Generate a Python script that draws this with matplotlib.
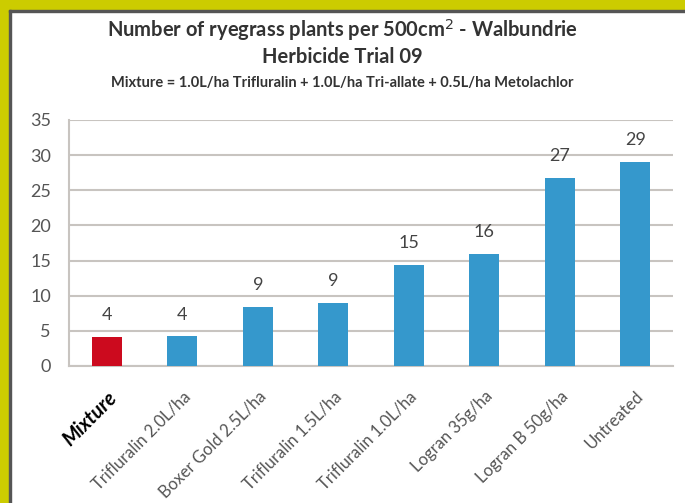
import matplotlib.pyplot as plt
from matplotlib.patches import Rectangle
import numpy as np

plt.rcParams['font.family'] = ['Lato', 'DejaVu Sans']

# data
categories = ['Mixture', 'Trifluralin 2.0L/ha', 'Boxer Gold 2.5L/ha', 'Trifluralin 1.5L/ha',
              'Trifluralin 1.0L/ha', 'Logran 35g/ha', 'Logran B 50g/ha', 'Untreated']
plants = [4.1, 4.2, 8.4, 9.0, 14.4, 15.9, 26.7, 29.0]
labels = ['4', '4', '9', '9', '15', '16', '27', '29']
bar_colors = ['#cc0a1e'] + ['#3598cc'] * 7

W, H = 685, 503
fig = plt.figure(figsize=(W / 100, H / 100), dpi=100)

# yellow frame on top and left
fig.patches.append(Rectangle((0, 1 - 10 / H), 1, 10 / H, transform=fig.transFigure,
                             color='#cccc00', zorder=0))
fig.patches.append(Rectangle((0, 0), 9 / W, 1, transform=fig.transFigure,
                             color='#cccc00', zorder=0))
fig.patches.append(Rectangle((9 / W, 0), 2 / W, 1 - 10 / H, transform=fig.transFigure,
                             color='#555555', zorder=1))
fig.patches.append(Rectangle((9 / W, 1 - 12 / H), 1, 2 / H, transform=fig.transFigure,
                             color='#555555', zorder=1))

ax = fig.add_axes([69 / W, 1 - 366 / H, (673 - 69) / W, (366 - 120) / H])
x = np.arange(len(categories))
bars = ax.bar(x, plants, width=0.4, color=bar_colors, zorder=3)

ax.set_xlim(-0.5, len(categories) - 0.5)
ax.set_ylim(0, 35)
ax.set_yticks(np.arange(0, 36, 5))
ax.grid(axis='y', color='#c8c4c0', linewidth=1.5, zorder=0)
for s in ['top', 'right']:
    ax.spines[s].set_visible(False)
ax.spines['left'].set_color('#c8c4c0')
ax.spines['bottom'].set_color('#c8c4c0')
ax.spines['left'].set_linewidth(1.5)
ax.spines['bottom'].set_linewidth(1.5)
ax.tick_params(axis='y', length=0, labelsize=13, labelcolor='#555555', pad=13)
ax.tick_params(axis='x', length=0, pad=16)

ax.set_xticks(x)
ax.set_xticklabels(categories, rotation=45, ha='right', rotation_mode='anchor',
                   fontsize=12, color='#555555')
tl = ax.get_xticklabels()[0]
tl.set_color('black')
tl.set_fontweight('bold')
tl.set_fontstyle('italic')
tl.set_fontsize(14.5)

for b, lab in zip(bars, labels):
    ax.annotate(lab, (b.get_x() + b.get_width() / 2, b.get_height()),
                xytext=(0, 10), textcoords='offset points', ha='center', va='bottom',
                fontsize=13, color='#444444')

fig.text(0.5, 1 - 30 / H, 'Number of ryegrass plants per 500cm$^2$ - Walbundrie',
         ha='center', va='center', fontsize=14.5, fontweight='bold', color='#333333')
fig.text(0.5, 1 - 57 / H, 'Herbicide Trial 09', ha='center', va='center',
         fontsize=14.5, fontweight='bold', color='#333333')
fig.text(0.5, 1 - 83 / H,
         'Mixture = 1.0L/ha Trifluralin + 1.0L/ha Tri-allate + 0.5L/ha Metolachlor',
         ha='center', va='center', fontsize=10.5, fontweight='bold', color='#333333')

fig.savefig('out.png', dpi=100, facecolor='white')
